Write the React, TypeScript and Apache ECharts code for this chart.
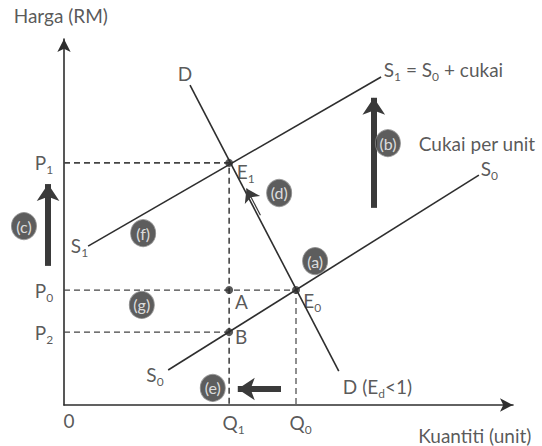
import React, { useEffect, useRef } from "react";
import * as echarts from "echarts";

// ---- Data (economic model values, in chart units) ----
const Q1 = 36.3;
const Q0 = 51.0;
const P1 = 65.1;
const P0 = 30.9;
const P2 = 19.6;
const S0_LINE = [[22.9, 9.4], [91.2, 61.8]];
const S1_LINE = [[5.3, 42.7], [69.7, 88.2]];
const D_LINE = [[27.7, 86.0], [60.4, 9.1]];
const POINTS = [[Q1, P1], [Q1, P0], [Q1, P2], [Q0, P0]]; // E1, A, B, E0
const PRICE_LEVELS = [P1, P0, P2];
const PRICE_SUBS = ["1", "0", "2"];
const QTY_LEVELS = [Q1, Q0];
const QTY_SUBS = ["1", "0"];

const FONT = "Lato, 'Open Sans', sans-serif";
const INK = "#2e2e2e";
const FS = 19;

const onD = (y: number) => {
  const [[x1, y1], [x2, y2]] = D_LINE;
  return x1 + ((y - y1) * (x2 - x1)) / (y2 - y1);
};

const sub = (m: string, s: string) => `{m|${m}}{s|${s}}`;

const rich = {
  m: { fontSize: FS, color: INK, lineHeight: 26, fontFamily: FONT },
  s: { fontSize: 12, color: INK, lineHeight: 13, verticalAlign: "bottom", fontFamily: FONT },
};

function buildOption() {
  const txt = (x: number, y: number, t: string, align = "center") => ({
    value: [x, y],
    t,
    label: { align },
  });

  const texts = [
    txt(-0.7, 104.6, "{m|Harga (RM)}"),
    txt(90.3, -8.1, "{m|Kuantiti (unit)}"),
    txt(1.1, -4.3, "{m|0}"),
    ...PRICE_LEVELS.map((p, i) => txt(-4.4, p, sub("P", PRICE_SUBS[i]))),
    ...QTY_LEVELS.map((q, i) => txt(q + 1.0, -4.6, sub("Q", QTY_SUBS[i]))),
    txt(26.6, 89.0, "{m|D}"),
    txt(70.3, 90.1, "{m|S}{s|1}{m| = S}{s|0}{m| + cukai}", "left"),
    txt(78.0, 70.4, "{m|Cukai per unit}", "left"),
    txt(91.6, 63.7, sub("S", "0"), "left"),
    txt(5.3, 43.0, sub("S", "1"), "right"),
    txt(20.0, 8.1, sub("S", "0")),
    txt(Q1 + 1.7, P1 - 2.2, sub("E", "1"), "left"),
    txt(Q0 + 1.6, P0 - 2.7, sub("E", "0"), "left"),
    txt(Q1 + 1.3, P0 - 3.2, "{m|A}", "left"),
    txt(Q1 + 1.3, P2 - 1.3, "{m|B}", "left"),
    txt(61.3, 5.1, "{m|D (E}{s|d}{m|<1)}", "left"),
  ];

  const badges = [
    { value: [55.2, 38.7], t: "(a)" },
    { value: [71.2, 70.4], t: "(b)" },
    { value: [-8.8, 48.1], t: "(c)" },
    { value: [47.3, 57.0], t: "(d)" },
    { value: [32.7, 4.6], t: "(e)" },
    { value: [17.4, 46.2], t: "(f)" },
    { value: [17.1, 26.9], t: "(g)" },
  ];

  const lineSeries = (data: number[][]) => ({
    type: "line",
    data,
    showSymbol: false,
    silent: true,
    lineStyle: { color: INK, width: 1.6 },
    z: 3,
  });

  const dashSeries = (data: number[][], width = 1.4) => ({
    type: "line",
    data,
    showSymbol: false,
    silent: true,
    lineStyle: { color: "#444", width, type: [6, 4] },
    z: 2,
  });

  const arrow = (coords: number[][], width: number, size: number) => ({
    type: "lines",
    coordinateSystem: "cartesian2d",
    silent: true,
    clip: false,
    symbol: ["none", "arrow"],
    symbolSize: size,
    lineStyle: { color: "#3a3a3a", width, opacity: 1, curveness: 0 },
    data: [{ coords }],
    z: 4,
  });

  return {
    animation: false,
    backgroundColor: "#fff",
    grid: { left: 64, right: 29, top: 39, bottom: 41 },
    xAxis: {
      type: "value",
      min: 0,
      max: 98.7,
      axisLine: { show: true, symbol: ["none", "arrow"], symbolSize: [10, 13], lineStyle: { color: INK, width: 1.6 } },
      axisTick: { show: false },
      axisLabel: { show: false },
      splitLine: { show: false },
    },
    yAxis: {
      type: "value",
      min: 0,
      max: 98.4,
      axisLine: { show: true, symbol: ["none", "arrow"], symbolSize: [10, 13], lineStyle: { color: INK, width: 1.6 } },
      axisTick: { show: false },
      axisLabel: { show: false },
      splitLine: { show: false },
    },
    series: [
      dashSeries([[0, P1], [Q1, P1], [Q1, 0]], 1.6),
      dashSeries([[0, P0], [Q0, P0], [Q0, 0]], 1.2),
      dashSeries([[0, P2], [Q1, P2]], 1.4),
      lineSeries(S0_LINE),
      lineSeries(S1_LINE),
      lineSeries(D_LINE),
      arrow([[68.1, 53.0], [68.1, 82.6]], 6, 17),
      arrow([[-3.5, 37.4], [-3.5, 59.4]], 6, 17),
      arrow([[47.7, 4.3], [38.2, 4.3]], 6, 17),
      arrow([[onD(51.0) + 0.6, 51.0], [onD(58.2) + 0.6, 58.2]], 1.2, 13),
      {
        type: "scatter",
        data: POINTS,
        symbolSize: 8,
        itemStyle: { color: INK },
        silent: true,
        z: 5,
      },
      {
        type: "scatter",
        data: badges,
        clip: false,
        symbol: "circle",
        symbolSize: [25, 27],
        itemStyle: { color: "#353535", borderColor: "#8a8a8a", borderWidth: 1 },
        label: {
          show: true,
          position: "inside",
          formatter: (p: any) => p.data.t,
          color: "#fff",
          fontSize: 16,
          fontFamily: FONT,
        },
        silent: true,
        z: 6,
      },
      {
        type: "scatter",
        data: texts,
        clip: false,
        symbolSize: 0,
        label: {
          show: true,
          position: [0, 0],
          verticalAlign: "middle",
          formatter: (p: any) => p.data.t,
          rich,
          fontFamily: FONT,
          fontSize: FS,
          color: INK,
        },
        silent: true,
        z: 6,
      },
    ],
  };
}

export default function App() {
  const ref = useRef<HTMLDivElement>(null);
  useEffect(() => {
    const chart = echarts.init(ref.current!, null, { renderer: "svg" });
    chart.setOption(buildOption() as any);
    return () => chart.dispose();
  }, []);
  return (
    <div
      ref={ref}
      style={{ position: "fixed", left: 0, top: 0, width: 542, height: 446, background: "#fff" }}
    />
  );
}
